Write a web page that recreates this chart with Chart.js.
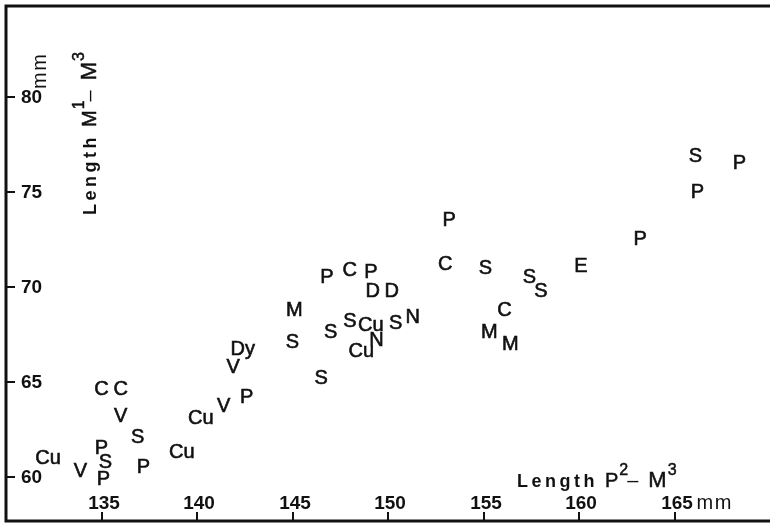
<!DOCTYPE html>
<html>
<head>
<meta charset="utf-8">
<script src="https://cdn.jsdelivr.net/npm/chart.js@4/dist/chart.umd.min.js"></script>
<style>
  html, body { margin: 0; padding: 0; background: #fff; }
  #wrap { width: 770px; height: 524px; }
</style>
</head>
<body>
<div id="wrap"><canvas id="chart" width="770" height="524"></canvas></div>
<script>
// Specimen codes and the two tooth-row lengths (mm) of each specimen
const codes = [
  'C','C','V','S','P','S','P','V','Cu','P','Cu','Cu','V','P','V','Dy',
  'S','M','S','P','C','P','D','D','S','S','Cu','N','Cu','S','N',
  'P','C','S','S','S','E','C','M','M','P','S','P','P'
];
const lengthP2M3 = [
  135.0,136.0,136.0,136.9,135.0,135.2,135.1,133.9,132.2,137.2,139.2,140.2,141.4,142.6,141.9,142.4,
  146.5,145.1,145.0,146.8,148.0,149.1,149.2,150.2,147.0,148.0,149.1,149.4,148.6,150.4,151.3,
  153.2,153.0,155.1,157.4,158.0,160.1,156.1,155.3,156.4,163.2,166.1,168.4,166.2
];
const lengthM1M3 = [
  64.6,64.6,63.2,62.1,61.5,60.8,59.9,60.3,61.0,60.5,61.3,63.1,63.7,64.2,65.8,66.7,
  65.2,68.8,67.1,70.5,70.9,70.8,69.8,69.8,67.6,68.2,68.0,67.2,66.6,68.1,68.4,
  73.5,71.2,71.0,70.5,69.8,71.1,68.8,67.6,67.0,72.5,76.9,76.5,75.0
];
const xTickValues = [135, 140, 145, 150, 155, 160, 165];
const yTickValues = [60, 65, 70, 75, 80];

const FAMILY = '"Liberation Sans", Arial, sans-serif';
const INK = '#111';

// one dataset per specimen code
const groupNames = [...new Set(codes)];
const datasets = groupNames.map(name => ({
  label: name,
  data: codes.map((c, i) => c === name ? { x: lengthP2M3[i], y: lengthM1M3[i] } : null).filter(Boolean),
  pointRadius: 0,
  pointHoverRadius: 0,
  showLine: false
}));

// draws a sequence of text runs with per-run font, raise and letter spacing
function drawRuns(ctx, x, y, runs) {
  for (const r of runs) {
    ctx.font = r.font;
    x += r.pre || 0;
    for (const ch of r.text) {
      ctx.fillText(ch, x, y + (r.dy || 0));
      if (r.heavy) ctx.strokeText(ch, x, y + (r.dy || 0));
      x += ctx.measureText(ch).width + (r.sp || 0);
    }
  }
}

const titleRuns = (letter, sup) => [
  { text: 'Length', font: 'bold 18px ' + FAMILY, sp: 3.5 },
  { text: letter, font: '20px ' + FAMILY, pre: 7, heavy: true },
  { text: sup, font: '16px ' + FAMILY, dy: -12, pre: 1, heavy: true },
  { text: '\u2013', font: '20px ' + FAMILY, pre: -1 },
  { text: 'M', font: '22px ' + FAMILY, pre: 10, heavy: true },
  { text: '3', font: '16px ' + FAMILY, dy: -12, pre: 1, heavy: true }
];

// letters placed at each data point
const letterMarks = {
  id: 'letterMarks',
  afterDatasetsDraw(chart) {
    const ctx = chart.ctx;
    ctx.save();
    ctx.fillStyle = INK;
    ctx.strokeStyle = INK;
    ctx.lineWidth = 0.6;
    ctx.font = '20px ' + FAMILY;
    ctx.textAlign = 'center';
    ctx.textBaseline = 'middle';
    chart.data.datasets.forEach((ds, di) => {
      const meta = chart.getDatasetMeta(di);
      meta.data.forEach(el => {
        ctx.fillText(ds.label, el.x, el.y);
        ctx.strokeText(ds.label, el.x, el.y);
      });
    });
    ctx.restore();
  }
};

// frame, inward ticks, tick labels and axis titles
const frame = {
  id: 'frame',
  afterDraw(chart) {
    const { ctx, chartArea: a, scales: { x, y } } = chart;
    ctx.save();
    ctx.strokeStyle = INK;
    ctx.fillStyle = INK;
    ctx.lineWidth = 3;
    ctx.beginPath();
    ctx.moveTo(770, a.top);
    ctx.lineTo(a.left, a.top);
    ctx.lineTo(a.left, a.bottom);
    ctx.lineTo(770, a.bottom);
    ctx.stroke();

    ctx.lineWidth = 2;
    ctx.font = 'bold 19px ' + FAMILY;
    ctx.textBaseline = 'middle';
    ctx.textAlign = 'left';
    yTickValues.forEach(v => {
      const py = Math.round(y.getPixelForValue(v));
      ctx.beginPath();
      ctx.moveTo(a.left, py);
      ctx.lineTo(a.left + 9, py);
      ctx.stroke();
      ctx.fillText(String(v), a.left + 15, py + 1);
    });
    ctx.textAlign = 'center';
    ctx.textBaseline = 'alphabetic';
    xTickValues.forEach(v => {
      const px = Math.round(x.getPixelForValue(v));
      ctx.beginPath();
      ctx.moveTo(px, a.bottom);
      ctx.lineTo(px, a.bottom - 9);
      ctx.stroke();
      ctx.fillText(String(v), px + 2, a.bottom - 12);
    });

    // units
    ctx.lineWidth = 0.5;
    const last = x.getPixelForValue(xTickValues[xTickValues.length - 1]);
    ctx.textAlign = 'left';
    drawRuns(ctx, last + 22, a.bottom - 12, [{ text: 'mm', font: '20px ' + FAMILY, sp: 1.5 }]);
    ctx.save();
    ctx.translate(46, 89);
    ctx.rotate(-Math.PI / 2);
    drawRuns(ctx, 0, 0, [{ text: 'mm', font: '20px ' + FAMILY, sp: 1.5 }]);
    ctx.restore();

    // axis titles
    drawRuns(ctx, 517, 487, titleRuns('P', '2'));
    ctx.save();
    ctx.translate(96, 215);
    ctx.rotate(-Math.PI / 2);
    drawRuns(ctx, 0, 0, titleRuns('M', '1'));
    ctx.restore();
    ctx.restore();
  }
};

new Chart(document.getElementById('chart'), {
  type: 'scatter',
  data: { datasets },
  options: {
    responsive: false,
    animation: false,
    devicePixelRatio: 1,
    events: [],
    layout: { padding: { left: 6, top: 6, right: 0, bottom: 3 } },
    scales: {
      x: { type: 'linear', min: 130, max: 170, display: false },
      y: { type: 'linear', min: 57.7, max: 84.8, display: false }
    },
    plugins: { legend: { display: false }, tooltip: { enabled: false } }
  },
  plugins: [letterMarks, frame]
});
</script>
</body>
</html>
